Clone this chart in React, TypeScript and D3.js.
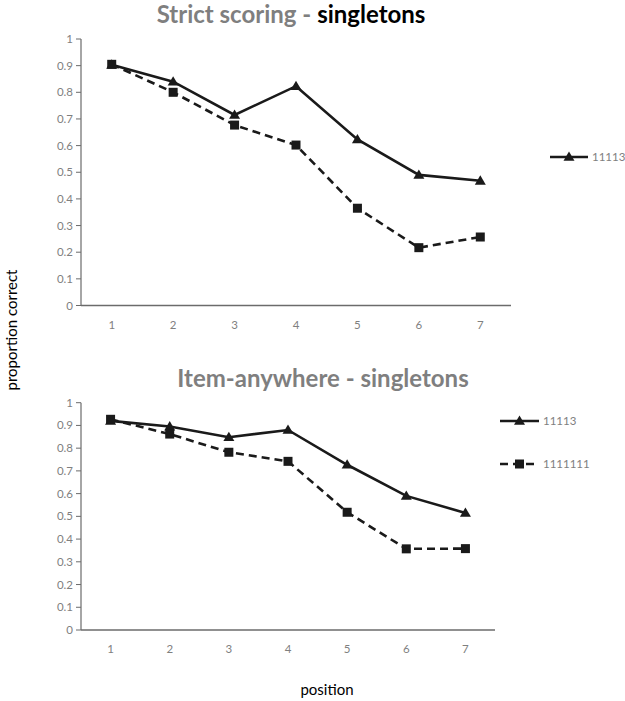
import React from "react";
import * as d3 from "d3";

const positions = ["1", "2", "3", "4", "5", "6", "7"];
const yTicks = [0, 0.1, 0.2, 0.3, 0.4, 0.5, 0.6, 0.7, 0.8, 0.9, 1];

const strict11113 = [0.903, 0.84, 0.715, 0.823, 0.623, 0.49, 0.468];
const strict1111111 = [0.905, 0.8, 0.677, 0.602, 0.365, 0.217, 0.257];
const anywhere11113 = [0.92, 0.895, 0.848, 0.88, 0.727, 0.59, 0.515];
const anywhere1111111 = [0.927, 0.862, 0.782, 0.742, 0.518, 0.357, 0.358];

const FONT = "Lato, 'Open Sans', sans-serif";
const GRAY = "#7f7f7f";
const AXIS = "#6b6b6b";

type Series = { name: string; values: number[]; dashed: boolean; marker: "tri" | "sq" };

function Marker({ type, x, y }: { type: "tri" | "sq"; x: number; y: number }) {
  if (type === "sq") {
    return <rect x={x - 4.5} y={y - 4.5} width={9} height={9} fill="#1a1a1a" />;
  }
  const s = 5.5;
  return (
    <path
      d={`M${x},${y - s} L${x + s},${y + s * 0.7} L${x - s},${y + s * 0.7} Z`}
      fill="#1a1a1a"
    />
  );
}

function Panel({
  left, right, top, bottom, series, legend,
}: {
  left: number; right: number; top: number; bottom: number;
  series: Series[];
  legend: { name: string; dashed: boolean; marker: "tri" | "sq"; x1: number; x2: number; y: number }[];
}) {
  const x = d3.scaleBand<string>().domain(positions).range([left, right]);
  const y = d3.scaleLinear().domain([0, 1]).range([bottom, top]);
  const line = d3
    .line<number>()
    .x((_, i) => (x(positions[i]) as number) + x.bandwidth() / 2)
    .y((d) => y(d));
  return (
    <g>
      {yTicks.map((t) => (
        <g key={t}>
          <line x1={left - 5} x2={left} y1={y(t)} y2={y(t)} stroke={AXIS} strokeWidth={1} />
          <text
            x={left - 8}
            y={y(t)}
            dy="0.35em"
            textAnchor="end"
            fontFamily={FONT}
            fontSize={11.5}
            fill={GRAY}
          >
            {String(t)}
          </text>
        </g>
      ))}
      <line x1={left} x2={left} y1={top} y2={bottom} stroke={AXIS} strokeWidth={1.2} />
      <line x1={left} x2={right} y1={bottom} y2={bottom} stroke={AXIS} strokeWidth={1.5} />
      {positions.map((p) => (
        <text
          key={p}
          x={(x(p) as number) + x.bandwidth() / 2}
          y={bottom + 23}
          textAnchor="middle"
          fontFamily={FONT}
          fontSize={11.5}
          fill={GRAY}
        >
          {p}
        </text>
      ))}
      {series.map((s) => (
        <g key={s.name}>
          <path
            d={line(s.values) as string}
            fill="none"
            stroke="#1a1a1a"
            strokeWidth={2.6}
            strokeDasharray={s.dashed ? "8,5" : undefined}
          />
          {s.values.map((v, i) => (
            <Marker
              key={i}
              type={s.marker}
              x={(x(positions[i]) as number) + x.bandwidth() / 2}
              y={y(v)}
            />
          ))}
        </g>
      ))}
      {legend.map((l) => (
        <g key={l.name}>
          <line
            x1={l.x1}
            x2={l.x2}
            y1={l.y}
            y2={l.y}
            stroke="#1a1a1a"
            strokeWidth={2.6}
            strokeDasharray={l.dashed ? "8,5" : undefined}
          />
          <Marker type={l.marker} x={(l.x1 + l.x2) / 2} y={l.y} />
          <text
            x={l.x2 + 4}
            y={l.y}
            dy="0.35em"
            fontFamily={FONT}
            fontSize={11.5}
            fill={GRAY}
          >
            {l.name}
          </text>
        </g>
      ))}
    </g>
  );
}

export default function App() {
  return (
    <svg
      width={625}
      height={701}
      style={{ position: "absolute", left: 0, top: 0, background: "#fff" }}
    >
      <text x={291} y={23} textAnchor="middle" fontFamily={FONT} fontWeight="bold" fontSize={24}>
        <tspan fill={GRAY}>Strict scoring - </tspan>
        <tspan fill="#000">singletons</tspan>
      </text>
      <Panel
        left={81}
        right={511}
        top={39}
        bottom={305.5}
        series={[
          { name: "11113", values: strict11113, dashed: false, marker: "tri" },
          { name: "1111111", values: strict1111111, dashed: true, marker: "sq" },
        ]}
        legend={[{ name: "11113", dashed: false, marker: "tri", x1: 550, x2: 588, y: 157 }]}
      />
      <text x={323} y={387} textAnchor="middle" fontFamily={FONT} fontWeight="bold" fontSize={24} fill={GRAY}>
        Item-anywhere - singletons
      </text>
      <Panel
        left={81}
        right={495}
        top={402.7}
        bottom={630}
        series={[
          { name: "11113", values: anywhere11113, dashed: false, marker: "tri" },
          { name: "1111111", values: anywhere1111111, dashed: true, marker: "sq" },
        ]}
        legend={[
          { name: "11113", dashed: false, marker: "tri", x1: 500, x2: 539, y: 421 },
          { name: "1111111", dashed: true, marker: "sq", x1: 500, x2: 539, y: 464 },
        ]}
      />
      <text
        transform="translate(17,330) rotate(-90)"
        textAnchor="middle"
        fontFamily={FONT}
        fontSize={15}
        fill="#000"
      >
        proportion correct
      </text>
      <text x={327} y={695} textAnchor="middle" fontFamily={FONT} fontSize={15} fill="#000">
        position
      </text>
    </svg>
  );
}
